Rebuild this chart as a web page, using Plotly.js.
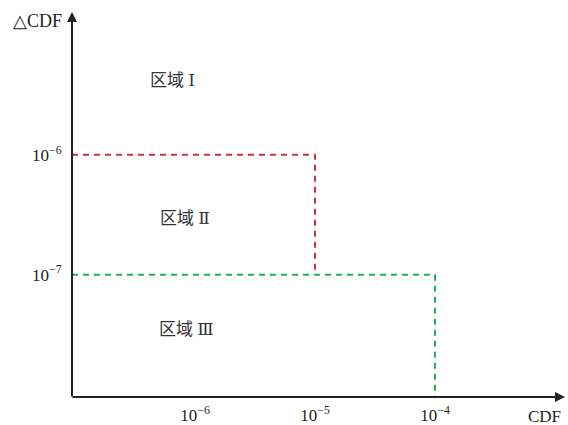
<!DOCTYPE html>
<html>
<head>
<meta charset="utf-8">
<script src="https://cdn.plot.ly/plotly-3.0.1.min.js"></script>
<style>html,body{margin:0;padding:0;background:#fff;}#chart{width:568px;height:425px;}</style>
</head>
<body>
<div id="chart"></div>
<script>
// Axis extents (log10 of CDF and ΔCDF)
const xLogRange = [-7.025, -2.917];
const yLogRange = [-8.02, -4.81];
// Tick values and labels
const xTickVals = [1e-6, 1e-5, 1e-4];
const xTickText = ['10<sup>−6</sup>', '10<sup>−5</sup>', '10<sup>−4</sup>'];
const yTickVals = [1e-7, 1e-6];
const yTickText = ['10<sup>−7</sup>', '10<sup>−6</sup>'];
// Region boundaries: red (I/II) and green (II/III)
const redCDF = 1e-5, redDCDF = 1e-6;
const greenCDF = 1e-4, greenDCDF = 1e-7;
// Region labels and positions (CDF, ΔCDF)
const regionNames = ['区域 Ⅰ', '区域 Ⅱ', '区域 Ⅲ'];
const regionCDF = [Math.pow(10, -6.19), Math.pow(10, -6.083), Math.pow(10, -6.075)];
const regionDCDF = [Math.pow(10, -5.38), Math.pow(10, -6.53), Math.pow(10, -7.46)];

const xMin = Math.pow(10, xLogRange[0]);
const yMin = Math.pow(10, yLogRange[0]);

const serif = '"Liberation Serif", "Times New Roman", serif';

const traces = [
  {x: [xMin, redCDF, redCDF], y: [redDCDF, redDCDF, greenDCDF], mode: 'lines',
   line: {color: '#c8323f', width: 2, dash: '6px,5px'}, hoverinfo: 'skip', cliponaxis: false},
  {x: [xMin, greenCDF, greenCDF], y: [greenDCDF, greenDCDF, yMin], mode: 'lines',
   line: {color: '#1db35a', width: 2, dash: '6px,5px'}, hoverinfo: 'skip', cliponaxis: false}
];

const annotations = regionNames.map((t, i) => ({
  x: Math.log10(regionCDF[i]), y: Math.log10(regionDCDF[i]), xref: 'x', yref: 'y',
  text: t, showarrow: false,
  font: {family: '"Liberation Serif", "DejaVu Serif", "Noto Sans CJK SC", serif', size: 17, color: '#333'}
}));
annotations.push(
  {x: 1, y: 0, xref: 'paper', yref: 'paper', ax: -494, ay: 0, axref: 'pixel', ayref: 'pixel',
   text: '', showarrow: true, arrowhead: 2, arrowsize: 1, arrowwidth: 2, arrowcolor: '#222', standoff: 0},
  {x: 0, y: 1, xref: 'paper', yref: 'paper', ax: 0, ay: 386, axref: 'pixel', ayref: 'pixel',
   text: '', showarrow: true, arrowhead: 2, arrowsize: 1, arrowwidth: 2, arrowcolor: '#222', standoff: 0},
  {x: 0, y: 1, xref: 'paper', yref: 'paper', xanchor: 'right', yanchor: 'middle', xshift: -8, yshift: -9,
   text: '△CDF', showarrow: false, font: {family: serif, size: 18, color: '#222'}},
  {x: 1, y: 0, xref: 'paper', yref: 'paper', xanchor: 'right', yanchor: 'middle', xshift: -2, yshift: -19,
   text: 'CDF', showarrow: false, font: {family: serif, size: 17, color: '#222'}}
);

const layout = {
  width: 568, height: 425,
  margin: {l: 72, r: 3, t: 12, b: 28},
  paper_bgcolor: '#fff', plot_bgcolor: '#fff',
  showlegend: false,
  font: {family: serif, size: 17, color: '#222'},
  xaxis: {type: 'log', range: xLogRange, showgrid: false, zeroline: false, showline: false,
    tickmode: 'array', tickvals: xTickVals, ticktext: xTickText, tickfont: {family: serif, size: 17, color: '#222'},
    ticks: 'outside', ticklen: 3, tickcolor: 'rgba(0,0,0,0)', fixedrange: true},
  yaxis: {type: 'log', range: yLogRange, showgrid: false, zeroline: false, showline: false,
    tickmode: 'array', tickvals: yTickVals, ticktext: yTickText, tickfont: {family: serif, size: 17, color: '#222'},
    ticks: 'outside', ticklen: 6, tickcolor: 'rgba(0,0,0,0)', fixedrange: true},
  annotations: annotations
};

Plotly.newPlot('chart', traces, layout, {displayModeBar: false, staticPlot: true});
</script>
</body>
</html>
